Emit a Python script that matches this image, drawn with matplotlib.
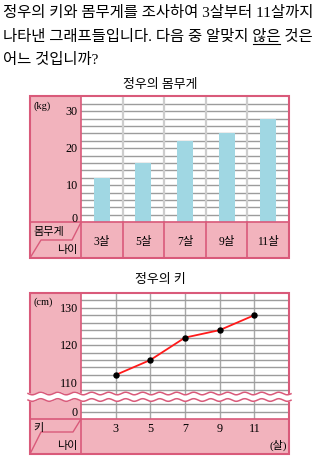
import numpy as np
import matplotlib
matplotlib.use('Agg')
import matplotlib.pyplot as plt
from matplotlib.patches import Rectangle
from matplotlib.transforms import blended_transform_factory as blend

plt.rcParams['font.family'] = ['Liberation Serif', 'Noto Sans CJK KR', 'DejaVu Sans']

# question text
question = ['정우의 키와 몸무게를 조사하여 3살부터 11살까지',
            '나타낸 그래프들입니다. 다음 중 알맞지 않은 것은',
            '어느 것입니까?']
underlined = '않은'

# weight chart
age_labels = ['3살', '5살', '7살', '9살', '11살']
weights = [12, 16, 22, 24, 28]
w_ticks = [0, 10, 20, 30]

# height chart
ages = [3, 5, 7, 9, 11]
heights = [112, 116, 122, 124, 128]
h_ticks = [110, 120, 130]

PINK = '#f2b3bd'
EDGE = '#d95a7a'
GRID = '#9c9c9c'
VGRID = '#cdcdcd'
W, H = 320, 457
QFS = 11.1

fig = plt.figure(figsize=(W / 100, H / 100), dpi=100)


def box(l, t, r, b):
    return [l / W, 1 - b / H, (r - l) / W, (b - t) / H]


# overlay axes in pixel coords for frames and labels
deco = fig.add_axes([0, 0, 1, 1], zorder=5)
deco.set_xlim(0, W)
deco.set_ylim(H, 0)
deco.axis('off')

# ---- question text
for i, line in enumerate(question):
    deco.text(3, 13 + i * 23.5, line, fontsize=QFS, ha='left', va='center')

r = fig.canvas.get_renderer()
pre = question[1].split(underlined)[0]
t1 = deco.text(3, 36.5, pre, fontsize=QFS, ha='left', va='center')
t2 = deco.text(3, 36.5, pre + underlined, fontsize=QFS, ha='left', va='center')
x0 = deco.transData.inverted().transform(t1.get_window_extent(r).get_points())[1][0]
x1 = deco.transData.inverted().transform(t2.get_window_extent(r).get_points())[1][0]
t1.remove()
t2.remove()
deco.plot([x0 + 1, x1 - 1], [43.5, 43.5], color='black', lw=0.8)

# ---- weight chart
deco.text(160, 85, '정우의 몸무게', fontsize=9.3, ha='center', va='center')
top, bot, row = 96, 222.3, 258
ax1 = fig.add_axes(box(81, top, 289, bot), zorder=1)
pos = np.arange(len(weights))
ax1.bar(pos, weights, width=0.385, color='#a0d7e3', zorder=2)
ax1.set_xlim(-0.5, len(weights) - 0.5)
ax1.set_ylim(0, 34.1)
ax1.set_yticks(np.arange(0, 34, 2))
ax1.yaxis.grid(True, color=GRID, lw=1)
ax1.set_axisbelow(True)
for b in pos[:-1] + 0.5:
    ax1.axvline(b, color=VGRID, lw=1.6, zorder=1)
ax1.tick_params(length=0, labelleft=False, labelbottom=False)
for s in ax1.spines.values():
    s.set_visible(False)

deco.add_patch(Rectangle((30, top), 51, bot - top, fc=PINK, ec='none'))
deco.add_patch(Rectangle((30, bot), 259, row - bot, fc=PINK, ec='none'))
deco.add_patch(Rectangle((30, top), 259, row - top, fc='none', ec=EDGE, lw=1.5))
deco.plot([81, 81], [top, row], color=EDGE, lw=1.2)
deco.plot([30, 289], [bot, bot], color=EDGE, lw=1.2)
tr1 = blend(ax1.transData, deco.transData)
for b in pos[:-1] + 0.5:
    deco.plot([b, b], [bot, row], color=EDGE, lw=1.2, transform=tr1)
deco.plot([81, 72, 41, 30], [bot, 240, 240, row], color=EDGE, lw=1)
for p, lab in zip(pos, age_labels):
    deco.text(p, 241.5, lab, fontsize=8.3, ha='center', va='center', transform=tr1)
deco.text(49, 231.5, '몸무게', fontsize=8, ha='center', va='center')
deco.text(67, 250, '나이', fontsize=8, ha='center', va='center')
deco.text(42.5, 106, '(kg)', fontsize=7.5, ha='center', va='center')
ty1 = blend(deco.transData, ax1.transData)
for v in w_ticks:
    off = 0.8 if v == 0 else -0.2
    deco.text(78, v + off, str(v), fontsize=8.7, ha='right', va='center', transform=ty1)

# ---- height chart
deco.text(160, 280, '정우의 키', fontsize=9.3, ha='center', va='center')
top2, wave1, wave2, bot2, row2 = 293.3, 394, 399.5, 419, 454
ax2 = fig.add_axes(box(81, top2, 289, wave1), zorder=1)
ax3 = fig.add_axes(box(81, wave2, 289, bot2), zorder=1)
ax2.set_ylim(106.9, 133.86)
ax2.set_yticks(np.arange(108, 134, 2))
ax3.set_ylim(0, (bot2 - wave2) / 3.73)
ax3.set_yticks([2, 4])
for ax in (ax2, ax3):
    ax.set_xlim(1, 13)
    ax.set_xticks(ages)
    ax.yaxis.grid(True, color=GRID, lw=1)
    ax.xaxis.grid(True, color='#a8a8a8', lw=1)
    ax.set_axisbelow(True)
    ax.tick_params(length=0, labelleft=False, labelbottom=False)
    for s in ax.spines.values():
        s.set_visible(False)
ax2.plot(ages, heights, color='#ff1a1a', lw=1.3, marker='o', ms=3.6,
         mfc='black', mec='black', zorder=3)

deco.add_patch(Rectangle((30, top2), 51, bot2 - top2, fc=PINK, ec='none'))
deco.add_patch(Rectangle((30, bot2), 259, row2 - bot2, fc=PINK, ec='none'))
deco.add_patch(Rectangle((30, top2), 259, row2 - top2, fc='none', ec=EDGE, lw=1.5))
deco.plot([81, 81], [top2, row2], color=EDGE, lw=1.2)
deco.plot([30, 289], [bot2, bot2], color=EDGE, lw=1.2)
deco.plot([81, 73, 41, 30], [bot2, 432, 432, row2], color=EDGE, lw=1)

# break mark
wx = np.linspace(28, 291, 300)
wy = 1.3 * np.sin((wx - 28) / 17 * 2 * np.pi)
deco.fill_between(wx, wave1 - 1 + wy, wave2 + wy, color='white', zorder=3)
deco.plot(wx, wave1 - 0.5 + wy, color=EDGE, lw=1.1, zorder=4)
deco.plot(wx, wave2 + 0.5 + wy, color=EDGE, lw=1.1, zorder=4)

tr2 = blend(ax2.transData, deco.transData)
for a in ages:
    deco.text(a, 428.5, str(a), fontsize=8.7, ha='center', va='center', transform=tr2)
deco.text(278, 445, '(살)', fontsize=8, ha='center', va='center')
deco.text(38, 428, '키', fontsize=8, ha='center', va='center')
deco.text(67, 446, '나이', fontsize=8, ha='center', va='center')
deco.text(43.5, 302, '(cm)', fontsize=7.5, ha='center', va='center')
ty2 = blend(deco.transData, ax2.transData)
for v in h_ticks:
    deco.text(78, v - 0.3, str(v), fontsize=8.7, ha='right', va='center', transform=ty2)
ty3 = blend(deco.transData, ax3.transData)
deco.text(78, 1.5, '0', fontsize=8.7, ha='right', va='center', transform=ty3)

fig.savefig('out.png', dpi=100)
